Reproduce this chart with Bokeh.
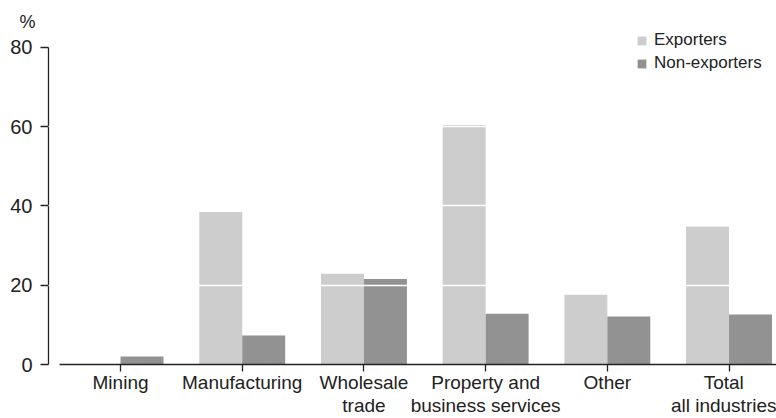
from bokeh.plotting import figure
from bokeh.models import Range1d, FixedTicker, ColumnDataSource, Legend, LegendItem, Title
from bokeh.transform import dodge
from bokeh.embed import file_html
from bokeh.resources import INLINE

categories = ["Mining", "Manufacturing", "Wholesale\ntrade", "Property and\nbusiness services", "Other", "Total\nall industries"]
exporters = [0.0, 38.5, 22.9, 60.4, 17.6, 34.8]
non_exporters = [2.0, 7.3, 21.6, 12.8, 12.1, 12.6]
y_ticks = [0, 20, 40, 60, 80]

FONT = "Liberation Sans"
EXP_COLOR = "#cdcdcd"
NON_COLOR = "#929292"
INK = "#222222"

xs = list(range(len(categories)))
src = ColumnDataSource(dict(x=xs, exp=exporters, non=non_exporters))

p = figure(width=776, height=418, output_backend="svg", toolbar_location=None,
           x_range=Range1d(-0.592, 5.39), y_range=Range1d(0, 85.03),
           min_border_left=48, min_border_right=0, min_border_top=27, min_border_bottom=53)
p.outline_line_color = None
p.background_fill_color = "white"
p.border_fill_color = "white"

bw = 0.353
r1 = p.vbar(x=dodge("x", -bw / 2, range=p.x_range), top="exp", width=bw, source=src,
            fill_color=EXP_COLOR, line_color=None)
r2 = p.vbar(x=dodge("x", bw / 2, range=p.x_range), top="non", width=bw, source=src,
            fill_color=NON_COLOR, line_color=None)

# x axis
p.xaxis.ticker = FixedTicker(ticks=xs)
p.xaxis.major_label_overrides = {i: c for i, c in zip(xs, categories)}
p.xaxis.bounds = (-0.5, p.x_range.end)
p.xaxis.axis_line_color = INK
p.xaxis.axis_line_width = 1.3
p.xaxis.major_tick_out = 7
p.xaxis.major_tick_in = 0
p.xaxis.major_tick_line_color = INK
p.xaxis.major_tick_line_width = 1.3
p.xaxis.minor_tick_line_color = None
p.xaxis.major_label_text_font = FONT
p.xaxis.major_label_text_font_size = "19px"
p.xaxis.major_label_text_line_height = 1.1
p.xaxis.major_label_text_color = INK
p.xaxis.major_label_standoff = 0

# y axis
p.yaxis.ticker = FixedTicker(ticks=y_ticks)
p.yaxis.bounds = (0, 80)
p.yaxis.axis_line_color = INK
p.yaxis.axis_line_width = 1.3
p.yaxis.major_tick_out = 8
p.yaxis.major_tick_in = 0
p.yaxis.major_tick_line_color = INK
p.yaxis.major_tick_line_width = 1.3
p.yaxis.minor_tick_line_color = None
p.yaxis.major_label_text_font = FONT
p.yaxis.major_label_text_font_size = "20px"
p.yaxis.major_label_text_color = INK
p.yaxis.major_label_standoff = 8

# grid: white lines drawn over bars
p.xgrid.visible = False
p.ygrid.ticker = FixedTicker(ticks=[20, 40, 60])
p.ygrid.grid_line_color = "white"
p.ygrid.grid_line_width = 1.5
p.ygrid.level = "overlay"

p.title = Title(text="%", align="left", offset=-29, standoff=-8, text_font=FONT,
                text_font_size="18px", text_font_style="normal", text_color=INK)

legend = Legend(items=[LegendItem(label="Exporters", renderers=[r1]),
                       LegendItem(label="Non-exporters", renderers=[r2])],
                location=(588, 291), orientation="vertical")
legend.border_line_color = None
legend.background_fill_alpha = 0
legend.padding = 0
legend.margin = 0
legend.spacing = 3
legend.glyph_width = 11
legend.glyph_height = 11
legend.label_height = 16
legend.label_standoff = 7
legend.label_text_font = FONT
legend.label_text_font_size = "17px"
legend.label_text_color = INK
p.add_layout(legend, "center")

open("out.html", "w").write(file_html(p, INLINE))
